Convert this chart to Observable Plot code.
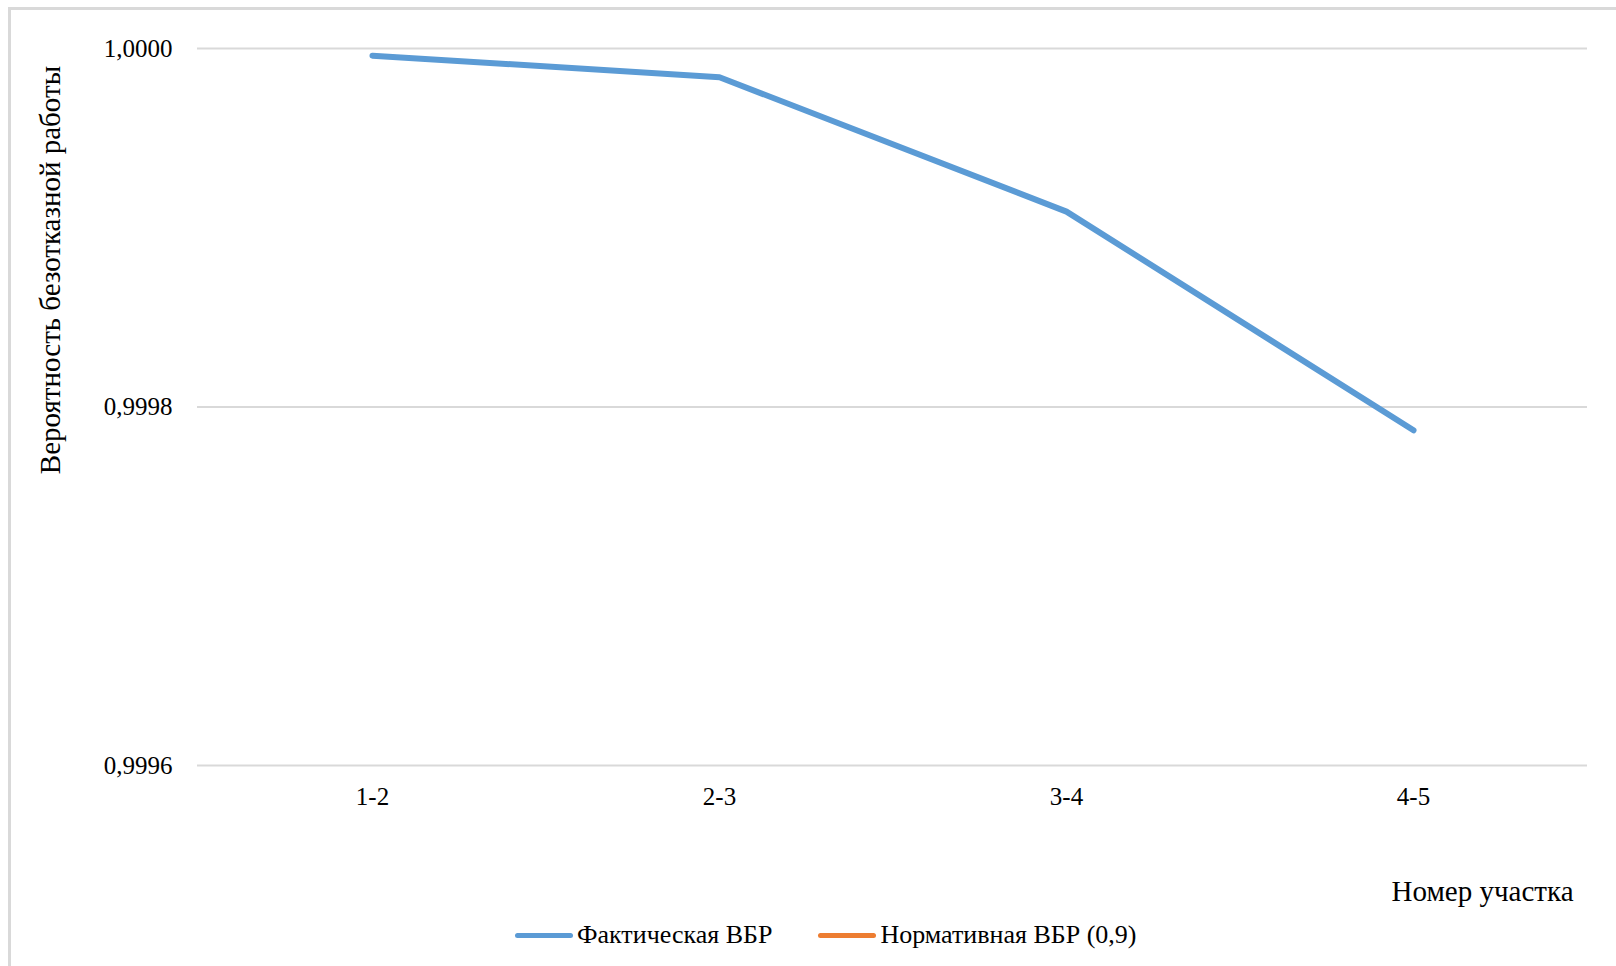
<!DOCTYPE html>
<html>
<head>
<meta charset="utf-8">
<script src="https://cdn.jsdelivr.net/npm/d3@7"></script>
<script src="https://cdn.jsdelivr.net/npm/@observablehq/plot@0.6"></script>
<style>
  html, body { margin: 0; padding: 0; background: #fff; overflow: hidden; }
  #wrap { position: relative; width: 1616px; height: 966px; font-family: "Liberation Serif", "Times New Roman", serif; }
  #frame { position: absolute; left: 8px; top: 7px; width: 1640px; height: 1000px; border-left: 3px solid #d9d9d9; border-top: 3px solid #d9d9d9; box-sizing: border-box; }
  #chart { position: absolute; left: 0; top: 0; }
  #legend { position: absolute; left: 515px; top: 920px; display: flex; align-items: center; font-size: 26px; color: #000; white-space: nowrap; }
  .item { display: flex; align-items: center; }
  .sw { width: 58px; height: 5px; border-radius: 3px; margin-right: 4px; }
</style>
</head>
<body>
<div id="wrap">
  <div id="frame"></div>
  <div id="chart"></div>
  <div id="legend"></div>
</div>
<script>
const sections = ["1-2", "2-3", "3-4", "4-5"];
const actualVBR = [0.999996, 0.999984, 0.999909, 0.999787];
const normativeVBR = [0.9, 0.9, 0.9, 0.9];
const yTicks = [0.9996, 0.9998, 1.0];
const seriesNames = ["Фактическая ВБР", "Нормативная ВБР (0,9)"];
const seriesColors = ["#5b9bd5", "#ed7d31"];
const yLabel = "Вероятность безотказной работы";
const xLabel = "Номер участка";

const actualData = sections.map((s, i) => ({section: s, value: actualVBR[i]}));
const normData = sections.map((s, i) => ({section: s, value: normativeVBR[i]}));
const fmt = d => d.toFixed(4).replace(".", ",");

const plot = Plot.plot({
  width: 1616,
  height: 910,
  marginLeft: 197,
  marginRight: 29,
  marginTop: 48,
  marginBottom: 145,
  style: {fontFamily: "'Liberation Serif', 'Times New Roman', serif", fontSize: "25px", color: "#000", background: "transparent"},
  x: {type: "point", domain: sections, padding: 0.5, label: null},
  y: {domain: [0.9996, 1.0], label: null},
  marks: [
    Plot.gridY(yTicks, {stroke: "#d9d9d9", strokeOpacity: 1, strokeWidth: 2}),
    Plot.axisY(yTicks, {tickSize: 0, tickPadding: 25, tickFormat: fmt, fontSize: 25, label: null}),
    Plot.axisX({tickSize: 0, tickPadding: 22, fontSize: 25, label: null}),
    Plot.line(normData, {x: "section", y: "value", stroke: seriesColors[1], strokeWidth: 5, clip: true}),
    Plot.line(actualData, {x: "section", y: "value", stroke: seriesColors[0], strokeWidth: 6, strokeLinecap: "round", strokeLinejoin: "round"}),
    Plot.text([yLabel], {frameAnchor: "left", text: d => d, textAnchor: "middle", rotate: -90, dx: -147, dy: -137, fontSize: 29, fill: "#000"}),
    Plot.text([xLabel], {frameAnchor: "bottom-right", text: d => d, textAnchor: "end", dx: -14, dy: 135, fontSize: 29, fill: "#000"})
  ]
});
document.getElementById("chart").appendChild(plot);

const legend = document.getElementById("legend");
seriesNames.forEach((name, i) => {
  const item = document.createElement("div");
  item.className = "item";
  item.style.marginRight = i === 0 ? "46px" : "0";
  const sw = document.createElement("div");
  sw.className = "sw";
  sw.style.background = seriesColors[i];
  const t = document.createElement("span");
  t.textContent = name;
  item.appendChild(sw);
  item.appendChild(t);
  legend.appendChild(item);
});
</script>
</body>
</html>
